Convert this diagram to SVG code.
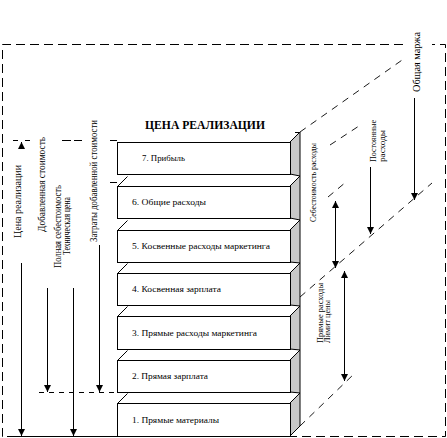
<svg xmlns="http://www.w3.org/2000/svg" width="447" height="438" viewBox="0 0 447 438">
<style>
.t{font-family:"Liberation Serif","Times New Roman",serif;fill:#000}
.lbl{font-size:9px}
.v{font-size:9.5px}
.b{fill:#fff;stroke:#000;stroke-width:1}
.s{fill:#c8c8c8;stroke:#000;stroke-width:1}
.ln{stroke:#000;stroke-width:1;fill:none}
.bd{stroke:#000;stroke-width:1;fill:none;stroke-dasharray:9,5}
.dg{stroke:#000;stroke-width:0.9;fill:none;stroke-dasharray:7,6}
.dh{stroke:#000;stroke-width:1;fill:none;stroke-dasharray:5,5}
</style>
<defs>
<marker id="ar" viewBox="0 0 10 10" refX="10" refY="5" markerWidth="7" markerHeight="7" markerUnits="userSpaceOnUse" orient="auto-start-reverse">
<path d="M0,0 L10,5 L0,10 z" fill="#000"/>
</marker>
</defs>
<rect width="447" height="438" fill="#fff"/>
<g id="border">
<path class="bd" d="M403,44.5 L2.5,44.5 L2.5,436.5 L445.5,436.5 L445.5,44.5 L432,44.5"/>
</g>
<g id="title"><text class="t" x="145" y="128.5" font-size="12" font-weight="bold" textLength="120" lengthAdjust="spacingAndGlyphs">ЦЕНА  РЕАЛИЗАЦИИ</text></g>
<g id="box7">
<polygon class="s" points="290,142 300,132 300,176 290,174"/>
<rect class="b" x="117.5" y="142.5" width="173" height="32"/>
<text class="t lbl" x="142" y="161" textLength="43" lengthAdjust="spacingAndGlyphs">7. Прибыль</text>
</g>
<g id="box6">
<path class="ln" d="M117.5,186.5 L127.5,176.5"/>
<polygon class="s" points="290,186 300,176 300,220 290,218"/>
<rect class="b" x="117.5" y="186.5" width="173" height="32"/>
<text class="t lbl" x="132" y="205" textLength="74" lengthAdjust="spacingAndGlyphs">6. Общие расходы</text>
</g>
<g id="box5">
<path class="ln" d="M117.5,230.5 L127.5,220.5"/>
<polygon class="s" points="290,230 300,220 300,263 290,262"/>
<rect class="b" x="117.5" y="230.5" width="173" height="32"/>
<text class="t lbl" x="132" y="249" textLength="138" lengthAdjust="spacingAndGlyphs">5. Косвенные расходы маркетинга</text>
</g>
<g id="box4">
<path class="ln" d="M117.5,273.5 L127.5,263.5"/>
<polygon class="s" points="290,273 300,263 300,306 290,305"/>
<rect class="b" x="117.5" y="273.5" width="173" height="32"/>
<text class="t lbl" x="132" y="292" textLength="89" lengthAdjust="spacingAndGlyphs">4. Косвенная зарплата</text>
</g>
<g id="box3">
<path class="ln" d="M117.5,316.5 L127.5,306.5"/>
<polygon class="s" points="290,316 300,306 300,350 290,349"/>
<rect class="b" x="117.5" y="316.5" width="173" height="33"/>
<text class="t lbl" x="132" y="336" textLength="125" lengthAdjust="spacingAndGlyphs">3. Прямые расходы маркетинга</text>
</g>
<g id="box2">
<path class="ln" d="M117.5,360.5 L127.5,350.5"/>
<polygon class="s" points="290,360 300,350 300,393 290,392"/>
<rect class="b" x="117.5" y="360.5" width="173" height="32"/>
<text class="t lbl" x="132" y="379" textLength="76" lengthAdjust="spacingAndGlyphs">2. Прямая зарплата</text>
</g>
<g id="box1">
<path class="ln" d="M117.5,403.5 L127.5,393.5"/>
<polygon class="s" points="290,403 300,393 300,426 290,436"/>
<rect class="b" x="117.5" y="403.5" width="173" height="33"/>
<text class="t lbl" x="132" y="423" textLength="87" lengthAdjust="spacingAndGlyphs">1. Прямые материалы</text>
</g>
<g id="left-labels">
<text class="t v" transform="translate(21,238) rotate(-90)" textLength="73" lengthAdjust="spacingAndGlyphs">Цена реализации</text>
<text class="t v" transform="translate(45,232) rotate(-90)" textLength="95" lengthAdjust="spacingAndGlyphs">Добавленная стоимость</text>
<text class="t v" transform="translate(61,268) rotate(-90)" textLength="83" lengthAdjust="spacingAndGlyphs">Полная себестоимость</text>
<text class="t v" transform="translate(70,255) rotate(-90)" textLength="58" lengthAdjust="spacingAndGlyphs">Техническая цена</text>
<text class="t v" transform="translate(97,242) rotate(-90)" textLength="122" lengthAdjust="spacingAndGlyphs">Затраты добавленной стоимости</text>
</g>
<g id="right-labels">
<text class="t" font-size="9.5" transform="translate(420,92) rotate(-90)" textLength="60" lengthAdjust="spacingAndGlyphs">Общая маржа</text>
<text class="t" font-size="8" transform="translate(376,162) rotate(-90)" textLength="42" lengthAdjust="spacingAndGlyphs">Постоянные</text>
<text class="t" font-size="8" transform="translate(385,162) rotate(-90)" textLength="32" lengthAdjust="spacingAndGlyphs">расходы</text>
<text class="t" font-size="7.5" transform="translate(316,222) rotate(-90)" textLength="79" lengthAdjust="spacingAndGlyphs">Себестоимость расходы</text>
<text class="t" font-size="8.5" transform="translate(323,343) rotate(-90)" textLength="60" lengthAdjust="spacingAndGlyphs">Прямые расходы</text>
<text class="t" font-size="8.5" transform="translate(330,343) rotate(-90)" textLength="43" lengthAdjust="spacingAndGlyphs">Лимит цены</text>
</g>
<g id="connectors">
<path class="ln" d="M13,140.5 H18 M25,140.5 H30 M62,140.5 H71 M74,140.5 H82 M110,140.5 H117"/>
<path class="ln" d="M110,182.5 H117"/>
<path class="dh" d="M39,392.5 H117"/>
<path class="ln" d="M7,436.5 H117"/>
<path class="ln" marker-end="url(#ar)" d="M21.5,149 V142"/>
<path class="ln" marker-end="url(#ar)" d="M21.5,263 V436"/>
<path class="ln" marker-end="url(#ar)" d="M47.5,288 V392"/>
<path class="ln" marker-end="url(#ar)" d="M73.5,288 V436"/>
<path class="ln" marker-end="url(#ar)" d="M99.5,245 V392"/>
<path class="dg" d="M300,132 L405,58"/>
<path class="dg" d="M330,145 L362,124"/>
<path class="dg" d="M328,197 L346,182"/>
<path class="dg" d="M300,297 L432,183"/>
<path class="dg" d="M300,426 L355,373"/>
<path class="ln" d="M295,132.5 H300"/>
<path class="ln" marker-end="url(#ar)" d="M414.5,98 V200"/>
<path class="ln" marker-end="url(#ar)" d="M370.5,167 V234"/>
<path class="ln" marker-start="url(#ar)" marker-end="url(#ar)" d="M335.5,201 V268"/>
<path class="ln" marker-start="url(#ar)" marker-end="url(#ar)" d="M344.5,271 V381"/>
</g>
</svg>
